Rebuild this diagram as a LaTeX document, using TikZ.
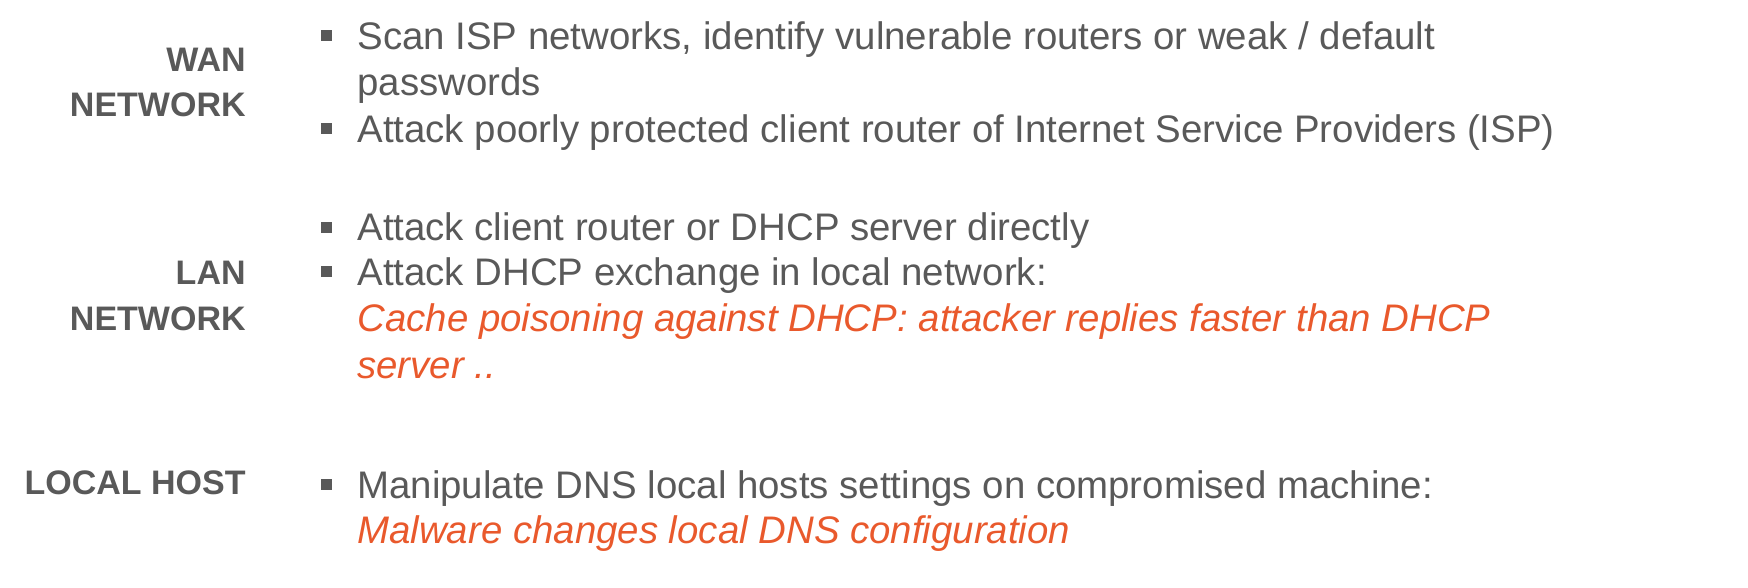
\documentclass[tikz,border=0pt]{standalone}
\usepackage{fontspec}
\setmainfont{Liberation Sans}
\usepackage{xcolor}
\definecolor{textgray}{HTML}{595959}
\definecolor{hlorange}{HTML}{E9592C}

\begin{document}
\begin{tikzpicture}[x=0.5pt,y=-0.5pt,
    zone/.style={anchor=base east,inner sep=0pt,text=textgray,font=\fontsize{17}{22.5}\selectfont\bfseries},
    entry/.style={anchor=base west,inner sep=0pt,text=textgray,font=\fontsize{19.2}{22.5}\selectfont},
    remark/.style={entry,text=hlorange,font=\fontsize{19.2}{22.5}\selectfont\itshape},
    sq/.style={fill=textgray,inner sep=0pt,minimum size=5.5pt}]
    \useasboundingbox (0,0) rectangle (1748,588);

    % left column
    \node[zone] (wan1) at (246,72) {WAN};
    \node[zone] (wan2) at (246,117) {NETWORK};
    \node[zone] (lan1) at (246,284) {LAN};
    \node[zone] (lan2) at (246,330) {NETWORK};
    \node[zone] (host) at (246,494) {LOCAL HOST};

    % WAN items
    \node[entry] (scan) at (357,50) {Scan ISP networks, identify vulnerable routers or weak / default};
    \node[entry] (scanb) at (357,96) {passwords};
    \node[entry] (isp) at (357,143) {Attack poorly protected client router of Internet Service Providers (ISP)};

    % LAN items
    \node[entry] (dhcp) at (357,241) {Attack client router or DHCP server directly};
    \node[entry] (xchg) at (357,285) {Attack DHCP exchange in local network:};
    \node[remark] (poison) at (357,331) {Cache poisoning against DHCP: attacker replies faster than DHCP};
    \node[remark] (poisonb) at (357,378) {server ..};

    % local host items
    \node[entry] (hosts) at (357,498) {Manipulate DNS local hosts settings on compromised machine:};
    \node[remark] (malware) at (357,543) {Malware changes local DNS configuration};

    % bullets
    \foreach \n in {scan,isp,dhcp,xchg,hosts}
        \node[sq] (sq-\n) at ([xshift=-15.5pt,yshift=7pt]\n.base west) {};
\end{tikzpicture}
\end{document}
